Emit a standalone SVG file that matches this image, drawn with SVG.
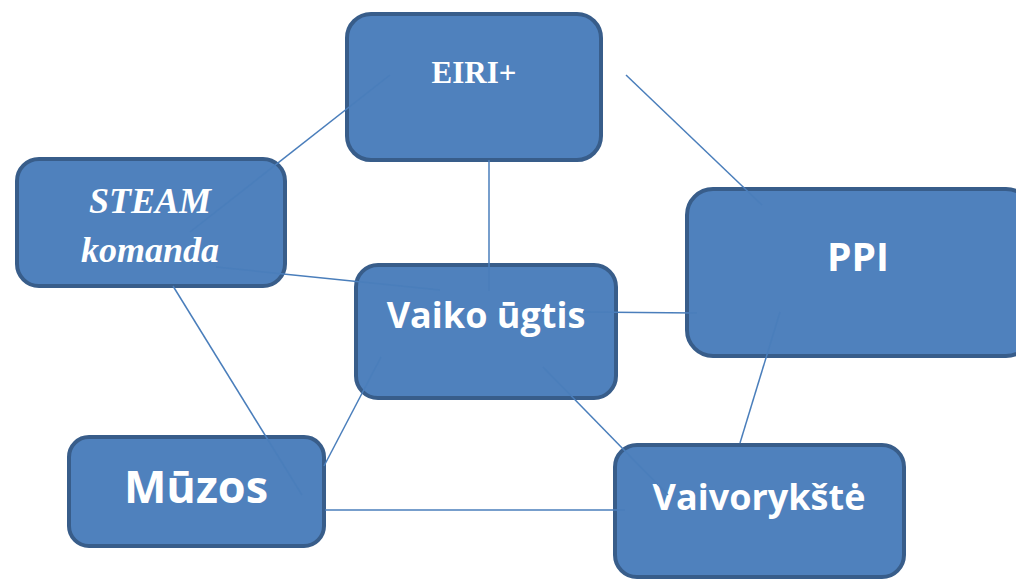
<svg xmlns="http://www.w3.org/2000/svg" width="1016" height="581" viewBox="0 0 1016 581">
<style>
.box{fill:#4f81bd;stroke:#385d8a;stroke-width:4}
.ln{stroke:#4a7ebb;stroke-width:1.5;fill:none}
.sans{font-family:"Open Sans","Noto Sans",sans-serif;font-weight:bold;fill:#fff;text-anchor:middle}
.serif{font-family:"Liberation Serif","Times New Roman",serif;font-weight:bold;fill:#fff;text-anchor:middle}
</style>
<rect width="1016" height="581" fill="#fff"/>
<g id="n-eiri"><rect class="box" x="347" y="14" width="254" height="146" rx="24"/><text class="serif" x="474" y="83" font-size="31">EIRI+</text></g>
<g id="n-steam"><rect class="box" x="17" y="159" width="268" height="127" rx="22"/><text class="serif" x="150" y="213" font-size="36" font-style="italic">STEAM</text><text class="serif" x="150" y="262" font-size="36" font-style="italic">komanda</text></g>
<g id="n-vaiko"><rect class="box" x="356" y="265" width="260" height="133" rx="22"/><text class="sans" x="486" y="328" font-size="36">Vaiko ūgtis</text></g>
<g id="n-ppi"><rect class="box" x="687" y="189" width="345" height="167" rx="26"/><text class="sans" x="858" y="271" font-size="39">PPI</text></g>
<g id="n-muzos"><rect class="box" x="69" y="437" width="255" height="109" rx="20"/><text class="sans" x="196" y="503" font-size="45">Mūzos</text></g>
<g id="n-vaivo"><rect class="box" x="615" y="445" width="289" height="132" rx="22"/><text class="sans" x="759" y="510" font-size="36">Vaivorykštė</text></g>
<g id="connectors">
<line class="ln" x1="190" y1="232" x2="390" y2="75"/>
<line class="ln" x1="489" y1="160" x2="489" y2="291"/>
<line class="ln" x1="626" y1="75" x2="762" y2="205"/>
<line class="ln" x1="216" y1="267" x2="440" y2="290"/>
<line class="ln" x1="173" y1="286" x2="302" y2="495"/>
<line class="ln" x1="381" y1="357" x2="324" y2="466"/>
<line class="ln" x1="583" y1="312" x2="697" y2="313"/>
<line class="ln" x1="543" y1="367" x2="668" y2="495"/>
<line class="ln" x1="780" y1="312" x2="740" y2="443"/>
<line class="ln" x1="325" y1="510" x2="625" y2="510"/>
</g>
</svg>
